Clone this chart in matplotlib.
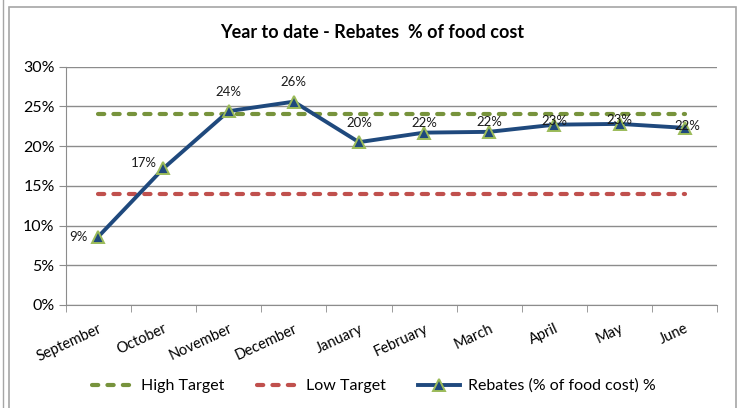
import matplotlib.pyplot as plt
import numpy as np
from matplotlib.patches import Rectangle
from matplotlib.ticker import FuncFormatter, MultipleLocator, FixedLocator

months = ['September', 'October', 'November', 'December', 'January',
          'February', 'March', 'April', 'May', 'June']
rebates = [8.6, 17.2, 24.4, 25.6, 20.5, 21.7, 21.8, 22.7, 22.8, 22.3]
high_target = [24] * len(months)
low_target = [14] * len(months)

# label offsets (points) for the data labels, as placed in the original
label_offsets = [(-14, 0), (-14, 4), (0, 14), (0, 14), (0, 14),
                 (0, 7), (0, 7), (0, 3), (0, 3), (2, 1)]

plt.rcParams['font.family'] = ['Lato', 'DejaVu Sans']

fig = plt.figure(figsize=(7.4, 4.08), dpi=100)
fig.patches.append(Rectangle((9 / 740, -0.1), 727 / 740, 1.1 - 7 / 408,
                             transform=fig.transFigure, fill=False,
                             edgecolor='#a6a6a6', lw=1.2))
fig.patches.append(Rectangle((3 / 740, -0.1), 2, 2,
                             transform=fig.transFigure, fill=False,
                             edgecolor='#a6a6a6', lw=1.0))

ax = fig.add_axes([65.7 / 740, 103 / 408, 651.6 / 740, 238.3 / 408])
x = np.arange(len(months))

green = '#77933C'
red = '#C0504D'
blue = '#1F497D'

ax.plot(x, high_target, color=green, lw=3, linestyle=(0, (1.5, 2.2)),
        dash_capstyle='round', label='High Target', zorder=3)
ax.plot(x, low_target, color=red, lw=3, linestyle=(0, (1.5, 2.2)),
        dash_capstyle='round', label='Low Target', zorder=3)
ax.plot(x, rebates, color=blue, lw=2.8, marker='^', markersize=8,
        markerfacecolor=blue, markeredgecolor='#9BBB59', markeredgewidth=1.4,
        label='Rebates (% of food cost) %', zorder=4)

for xi, v, (dx, dy) in zip(x, rebates, label_offsets):
    ax.annotate(f'{v:.0f}%', (xi, v), xytext=(dx, dy),
                textcoords='offset points', ha='center', va='center',
                fontsize=9.5, color='#1a1a1a', zorder=5)

ax.set_xlim(-0.5, len(months) - 0.5)
ax.set_ylim(0, 30)
ax.yaxis.set_major_locator(MultipleLocator(5))
ax.yaxis.set_major_formatter(FuncFormatter(lambda v, p: f'{v:.0f}%'))
ax.grid(axis='y', color='#8c8c8c', lw=1)
ax.set_axisbelow(True)

ax.set_xticks(x)
ax.set_xticklabels(months, rotation=25, ha='right', rotation_mode='anchor',
                   fontsize=10.5)
ax.xaxis.set_minor_locator(FixedLocator(np.arange(-0.5, len(months), 1)))
ax.tick_params(axis='x', which='major', length=0, pad=12)
ax.tick_params(axis='x', which='minor', length=5, color='#8c8c8c')
ax.tick_params(axis='y', length=5, color='#8c8c8c', labelsize=11.5, pad=3)

for s in ['top', 'right']:
    ax.spines[s].set_visible(False)
for s in ['left', 'bottom']:
    ax.spines[s].set_color('#8c8c8c')

fig.text(0.503, 1 - 33 / 408, 'Year to date - Rebates  % of food cost',
         ha='center', va='center', fontsize=13, fontweight='bold')

fig.legend(loc='center', bbox_to_anchor=(0.505, 1 - 386 / 408), ncol=3,
           frameon=False, fontsize=11.5, handlelength=2.6, columnspacing=2.0,
           handletextpad=0.5)

plt.savefig('out.png', dpi=100)
